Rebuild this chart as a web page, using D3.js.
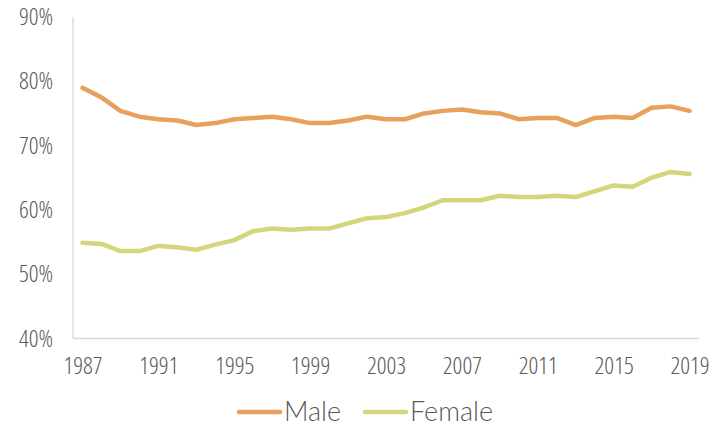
<!DOCTYPE html>
<html>
<head>
<meta charset="utf-8">
<script src="https://cdn.jsdelivr.net/npm/d3@7"></script>
<style>
  body { margin: 0; background: #fff; }
  svg text { fill: #595959; }
</style>
</head>
<body>
<svg id="chart" width="715" height="426"></svg>
<script>
const years = d3.range(1987, 2020);
const male = [79.0, 77.5, 75.4, 74.5, 74.1, 73.9, 73.2, 73.5, 74.1, 74.3, 74.5,
              74.1, 73.5, 73.5, 73.9, 74.5, 74.1, 74.1, 75.0, 75.4, 75.6, 75.2,
              75.0, 74.1, 74.3, 74.3, 73.2, 74.3, 74.5, 74.3, 75.9, 76.1, 75.4];
const female = [54.9, 54.7, 53.6, 53.6, 54.4, 54.2, 53.8, 54.6, 55.3, 56.7, 57.1,
                56.9, 57.1, 57.1, 57.9, 58.7, 58.9, 59.5, 60.4, 61.5, 61.5, 61.5,
                62.2, 62.0, 62.0, 62.2, 62.0, 62.9, 63.8, 63.6, 65.0, 65.9, 65.6];
const yTicks = [40, 50, 60, 70, 80, 90];
const xTicks = [1987, 1991, 1995, 1999, 2003, 2007, 2011, 2015, 2019];

const series = [
  {name: "Male", values: male, color: "#E8A15C"},
  {name: "Female", values: female, color: "#D4D67B"}
];

const svg = d3.select("#chart");

const x = d3.scalePoint().domain(years).range([73, 699]).padding(0.5);
const y = d3.scaleLinear().domain([40, 90]).range([338.5, 17]);

function styleTicks(g) {
  g.select(".domain").remove();
  g.selectAll("text")
   .style("font-family", "'Open Sans', sans-serif")
   .style("font-weight", 300)
   .style("font-stretch", "82%")
   .style("font-size", "24px")
   .style("fill", "#595959");
}

// axis lines
svg.append("line")
   .attr("x1", 73).attr("x2", 73)
   .attr("y1", y(90)).attr("y2", y(40))
   .attr("stroke", "#d9d9d9").attr("stroke-width", 1.3);
svg.append("line")
   .attr("x1", 73).attr("x2", 699)
   .attr("y1", y(40)).attr("y2", y(40))
   .attr("stroke", "#d9d9d9").attr("stroke-width", 1.3);

svg.append("g")
   .attr("transform", "translate(73,0)")
   .call(d3.axisLeft(y).tickValues(yTicks).tickSize(0).tickPadding(20).tickFormat(d => d + "%"))
   .call(styleTicks);

svg.append("g")
   .attr("transform", `translate(0,${y(40)})`)
   .call(d3.axisBottom(x).tickValues(xTicks).tickSize(0).tickPadding(18))
   .call(styleTicks);

const line = d3.line()
   .x((d, i) => x(years[i]))
   .y(d => y(d));

svg.selectAll("path.series")
   .data(series)
   .join("path")
   .attr("class", "series")
   .attr("fill", "none")
   .attr("stroke", d => d.color)
   .attr("stroke-width", 4.5)
   .attr("stroke-linejoin", "round")
   .attr("stroke-linecap", "round")
   .attr("d", d => line(d.values));

// legend
const legendX = [239, 365];
const legend = svg.selectAll("g.legend")
   .data(series)
   .join("g")
   .attr("class", "legend")
   .attr("transform", (d, i) => `translate(${legendX[i]},412)`);
legend.append("line")
   .attr("x1", 0).attr("x2", 41)
   .attr("stroke", d => d.color).attr("stroke-width", 4.5)
   .attr("stroke-linecap", "round");
legend.append("text")
   .attr("x", 45).attr("y", 9)
   .style("font-family", "Lato, sans-serif").style("font-weight", 300)
   .style("font-size", "27px")
   .text(d => d.name);
</script>
</body>
</html>
